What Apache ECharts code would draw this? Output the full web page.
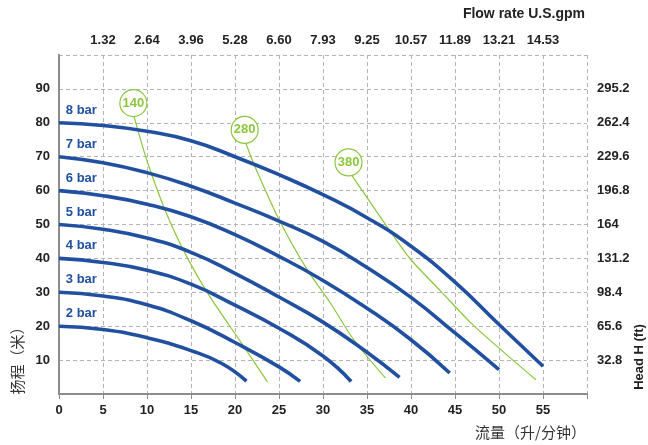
<!DOCTYPE html>
<html><head><meta charset="utf-8">
<script src="https://cdn.jsdelivr.net/npm/echarts@6/dist/echarts.min.js"></script>
<style>html,body{margin:0;padding:0;background:#fff}#c{width:648px;height:445px}</style>
</head><body><div id="c"></div>
<script>
// top axis tick labels (U.S. gpm) for 5,10,...,55 L/min
const gpmLabels = ['1.32','2.64','3.96','5.28','6.60','7.93','9.25','10.57','11.89','13.21','14.53'];
// right axis tick labels (ft) for 10..90 m
const ftLabels = ['32.8','65.6','98.4','131.2','164','196.8','229.6','262.4','295.2'];

// pressure curves [flow L/min, head m]
const bar2 = [[0,20],[5,19],[10,16.6],[15,12.8],[18.5,9.0],[21.3,3.8]];
const bar3 = [[0,30],[5,28.9],[10,26.3],[15,21.6],[20,15.2],[25,8.0],[27.4,3.7]];
const bar4 = [[0,40],[5,38.8],[10,36.5],[15,32.4],[20,26.2],[25,19.4],[30,11.2],[33.2,3.7]];
const bar5 = [[0,50],[5,48.6],[10,46],[15,41.8],[20,35.6],[25,28.6],[30,21.2],[35,12.3],[38.7,4.9]];
const bar6 = [[0,60],[5,58.5],[10,56],[15,52.3],[20,47],[25,40.6],[30,33.5],[35,25.3],[40,16],[44.4,6.2]];
const bar7 = [[0,70],[5,68.2],[10,65.3],[15,61.3],[20,56.3],[25,51],[30,45],[35,37.3],[40,28.5],[45,18],[50,7.2]];
const bar8 = [[0,80],[5,79.2],[10,77.5],[15,74.7],[20,70],[25,64.7],[30,58.8],[35,52],[40,43.6],[45,33],[50,20.5],[55,8.2]];
const barNames = ['2 bar','3 bar','4 bar','5 bar','6 bar','7 bar','8 bar'];

// air consumption lines
const air140 = [[8.5,82.1],[10,68.8],[12.25,53],[14.5,40.6],[17,29.3],[21,14],[23.7,3.5]];
const air280 = [[21.2,74.2],[22.2,67.5],[25,51.5],[28.2,36.7],[30.8,27],[33.5,16],[37.1,4.7]];
const air380 = [[33.3,64.4],[37.5,48.5],[40,39.6],[43.5,30],[46.8,21],[50.2,13.1],[54.2,4.2]];
const airTags = [[8.45,85.8,'140'],[21.1,77.9,'280'],[32.9,68.3,'380']];

const BLUE = '#2150a0', GREEN = '#8cc63e', AXIS = '#8c8c8c';
const FONT = '"Liberation Sans", Arial, sans-serif';
const CJK = '"Noto Sans CJK SC", sans-serif';

const curves = [bar2,bar3,bar4,bar5,bar6,bar7,bar8];
const series = [];
[air140, air280, air380].forEach(d => series.push({
  type:'line', data:d, smooth:0.3, showSymbol:false, silent:true,
  lineStyle:{color:GREEN, width:1.2}, z:2
}));
curves.forEach((d,i) => series.push({
  type:'line', name:barNames[i], data:d, smooth:0.5, showSymbol:false,
  lineStyle:{color:BLUE, width:3.6}, z:3
}));
series.push({
  type:'scatter', data:airTags, symbol:'circle', symbolSize:27, z:5,
  itemStyle:{color:'#fff', borderColor:GREEN, borderWidth:1.2, opacity:1},
  label:{show:true, position:'inside', formatter:p=>p.data[2], color:GREEN,
         fontWeight:'bold', fontSize:13, fontFamily:FONT}
});
series.push({
  type:'scatter', symbolSize:0, z:6, itemStyle:{opacity:1, color:BLUE},
  data: curves.map((d,i)=>[0.55, d[0][1]+3.7, barNames[i]]),
  label:{show:true, position:'right', distance:2, formatter:p=>p.data[2], color:BLUE,
         fontWeight:'bold', fontSize:13, fontFamily:FONT}
});

const chart = echarts.init(document.getElementById('c'), null, {renderer:'canvas'});
const dashed = {show:true, lineStyle:{color:'#b4b4b4', type:[4,3], width:1}};
chart.setOption({
  animation:false,
  grid:{left:59, right:61, top:55, bottom:51, containLabel:false},
  xAxis:[
    {type:'value', position:'bottom', min:0, max:60, interval:5,
     axisLine:{show:true, lineStyle:{color:AXIS, width:2}}, axisTick:{show:false},
     splitLine:dashed,
     axisLabel:{margin:10, color:'#222', fontSize:13, fontWeight:'bold', fontFamily:FONT,
                formatter:v=> v===60 ? '' : String(v)}},
    {type:'value', position:'top', min:0, max:60, interval:5,
     axisLine:{show:true, lineStyle:{color:AXIS, width:2}},
     axisTick:{show:true, inside:true, length:5, lineStyle:{color:AXIS}},
     splitLine:{show:false},
     axisLabel:{margin:8, color:'#222', fontSize:13, fontWeight:'bold', fontFamily:FONT,
                formatter:v=>{const i=Math.round(v/5)-1; return (i>=0&&i<gpmLabels.length)?gpmLabels[i]:'';}}}
  ],
  yAxis:[
    {type:'value', position:'left', min:0, max:100, interval:10,
     axisLine:{show:true, lineStyle:{color:AXIS, width:2}}, axisTick:{show:false},
     splitLine:dashed,
     axisLabel:{margin:9, color:'#222', fontSize:13, fontWeight:'bold', fontFamily:FONT,
                formatter:v=>(v===0||v===100)?'':String(v)}},
    {type:'value', position:'right', min:0, max:100, interval:10,
     axisLine:{show:true, lineStyle:{color:AXIS, width:2}}, axisTick:{show:false},
     splitLine:{show:false},
     axisLabel:{margin:10, color:'#222', fontSize:13, fontWeight:'bold', fontFamily:FONT,
                formatter:v=>{const i=Math.round(v/10)-1; return (i>=0&&i<ftLabels.length)?ftLabels[i]:'';}}}
  ],
  series:series,
  graphic:[
    {type:'text', x:585, y:14, style:{text:'Flow rate U.S.gpm', textAlign:'right', textVerticalAlign:'middle',
      fill:'#222', font:'bold 14px '+FONT}},
    {type:'text', x:586, y:432, style:{text:'流量（升/分钟）', textAlign:'right', textVerticalAlign:'middle',
      fill:'#333', font:'15px '+CJK}},
    {type:'text', x:17, y:357, rotation:Math.PI/2, style:{text:'扬程（米）', textAlign:'center', textVerticalAlign:'middle',
      fill:'#333', font:'15px '+CJK}},
    {type:'text', x:639, y:357, rotation:Math.PI/2, style:{text:'Head H (ft)', textAlign:'center', textVerticalAlign:'middle',
      fill:'#222', font:'bold 13px '+FONT}}
  ]
});
</script></body></html>
